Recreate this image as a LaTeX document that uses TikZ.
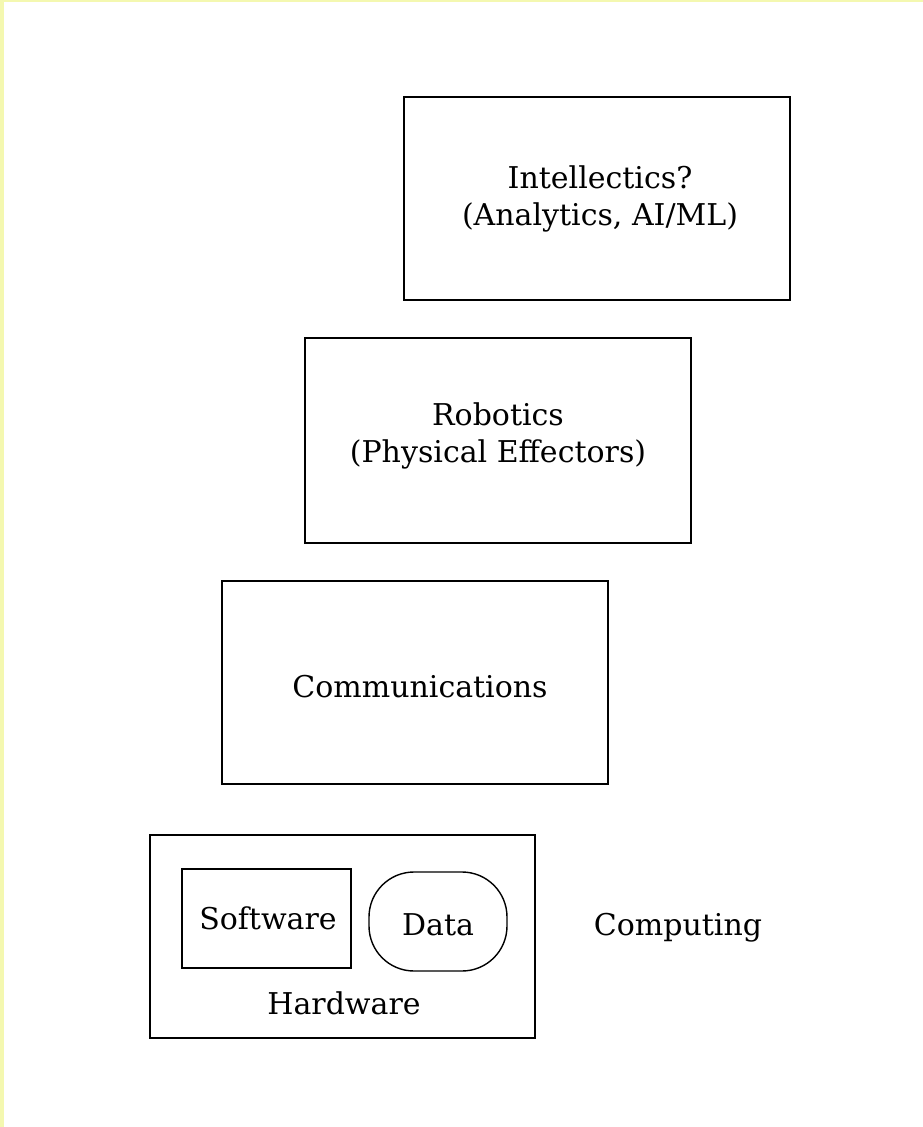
\documentclass[tikz,border=0pt]{standalone}
\usepackage{fontspec}
\setmainfont{DejaVu Serif}
\usetikzlibrary{positioning}
\definecolor{edgeyellow}{RGB}{244,248,176}
\tikzset{
  box/.style={draw=black, line width=1.4pt, inner sep=0pt, align=center},
  lbl/.style={font=\fontsize{30}{37}\selectfont, align=center, inner sep=0pt},
}
\begin{document}
\begin{tikzpicture}[x=1pt,y=-1pt]
\useasboundingbox (0,0) rectangle (923,1127);
\fill[white] (0,0) rectangle (923,1127);
\fill[edgeyellow] (0,0) rectangle (3.5,1127);
\fill[edgeyellow] (0,0) rectangle (923,2);
% Intellectics
\draw[box] (404,97) rectangle (790,300);
\node[lbl] (intel) at (600,199) {Intellectics?\\(Analytics, AI/ML)};
% Robotics
\draw[box] (305,338) rectangle (691,543);
\node[lbl] (robot) at (498,436) {Robotics\\(Physical Effectors)};
% Communications
\draw[box] (222,581) rectangle (608,784);
\node[lbl] (comm) at (420,687) {Communications};
% Hardware
\draw[box] (150,835) rectangle (535,1038);
\draw[box] (182,869) rectangle (351,968);
\node[lbl] (soft) at (268,918) {Software};
\draw[box, rounded corners=45pt] (369,872) rectangle (507,971);
\node[lbl] (data) at (438,925) {Data};
\node[lbl] (hard) at (344,1003) {Hardware};
\node[lbl] (compu) at (678,928) {Computing};
\end{tikzpicture}
\end{document}
